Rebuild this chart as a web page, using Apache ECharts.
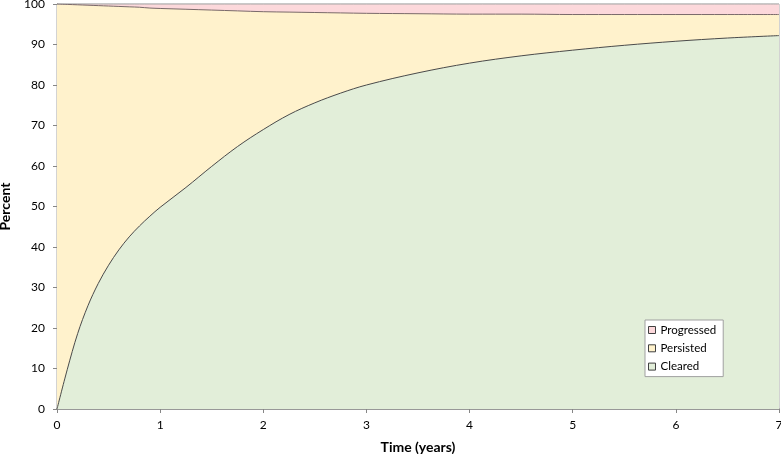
<!DOCTYPE html>
<html><head><meta charset="utf-8">
<script src="https://cdn.jsdelivr.net/npm/echarts@6/dist/echarts.min.js"></script>
<style>html,body{margin:0;padding:0;background:#fff}#c{width:781px;height:454px}</style>
</head><body><div id="c"></div>
<script>
const years      = [0,0.1,0.2,0.3,0.4,0.5,0.6,0.7,0.8,0.9,1.0,1.25,1.5,1.75,2.0,2.25,2.5,2.75,3.0,3.5,4.0,4.5,5.0,5.5,6.0,6.5,7.0];
const cleared    = [0,9.8,18.6,25.5,31.0,35.5,39.3,42.5,45.2,47.6,49.8,54.7,59.9,64.8,69.0,72.7,75.6,78.0,80.0,83.0,85.4,87.2,88.6,89.8,90.8,91.6,92.2];
const persisted  = [100,90.1,81.2,74.2,68.6,64.0,60.1,56.8,54.0,51.4,49.1,44.0,38.6,33.5,29.1,25.3,22.3,19.8,17.7,14.6,12.1,10.3,8.8,7.6,6.6,5.8,5.2];
const progressed = [0,0.1,0.2,0.3,0.4,0.5,0.6,0.7,0.8,1.0,1.1,1.3,1.5,1.7,1.9,2.0,2.1,2.2,2.3,2.4,2.5,2.5,2.6,2.6,2.6,2.6,2.6];
const xTicks = [0,1,2,3,4,5,6,7];
const yTicks = [0,10,20,30,40,50,60,70,80,90,100];

const FONT = "Lato, 'Open Sans', sans-serif";
// cumulative (stacked) tops, drawn back-to-front
const topCleared    = cleared.map(v=>v);
const topPersisted  = cleared.map((v,i)=>+(v+persisted[i]).toFixed(2));
const topProgressed = cleared.map((v,i)=>+(v+persisted[i]+progressed[i]).toFixed(2));
const pair = arr => years.map((x,i)=>[x,arr[i]]);
const chart = echarts.init(document.getElementById('c'), null, {renderer:'canvas'});
chart.setOption({
  animation:false,
  textStyle:{fontFamily:FONT},
  grid:{left:57,right:2,top:4,bottom:45,containLabel:false,outerBoundsMode:'none',
        show:true,borderColor:'#A6A6A6',borderWidth:1,backgroundColor:'transparent'},
  legend:{
    orient:'vertical', left:645, top:320, padding:[4,7,4,3], itemGap:6.3,
    backgroundColor:'#FFFFFF', borderColor:'#A0A0A0', borderWidth:1,
    icon:'rect', itemWidth:7, itemHeight:7,
    textStyle:{fontFamily:FONT,fontSize:11.5,color:'#000',lineHeight:12},
    itemStyle:{borderColor:'#404040',borderWidth:1},
    data:['Progressed','Persisted','Cleared']
  },
  xAxis:{
    type:'value', min:0, max:7, interval:1,
    name:'Time (years)', nameLocation:'middle', nameGap:31,
    nameTextStyle:{fontFamily:FONT,fontSize:14,fontWeight:'bold',color:'#000'},
    axisLine:{show:true,lineStyle:{color:'#868686',width:1.5}},
    axisTick:{show:true,length:4,lineStyle:{color:'#868686'}},
    axisLabel:{fontFamily:FONT,fontSize:12,color:'#000',margin:10,formatter:v=>xTicks.includes(v)?String(v):''},
    splitLine:{show:false}
  },
  yAxis:{
    type:'value', min:0, max:100, interval:10,
    name:'Percent', nameLocation:'middle', nameGap:45, nameRotate:90,
    nameTextStyle:{fontFamily:FONT,fontSize:14,fontWeight:'bold',color:'#000'},
    axisLine:{show:true,lineStyle:{color:'#868686',width:1}},
    axisTick:{show:true,length:4,lineStyle:{color:'#868686'}},
    axisLabel:{fontFamily:FONT,fontSize:12,color:'#000',margin:12,formatter:v=>yTicks.includes(v)?String(v):''},
    splitLine:{show:false}
  },
  series:[
    {name:'Progressed',type:'line',data:pair(topProgressed),smooth:0.35,symbol:'none',
     color:'#FCD8DB',lineStyle:{color:'#A6A6A6',width:1},areaStyle:{color:'#FCD8DB',opacity:1}},
    {name:'Persisted',type:'line',data:pair(topPersisted),smooth:0.35,symbol:'none',
     color:'#FFF2CC',lineStyle:{color:'#7A6A6A',width:1},areaStyle:{color:'#FFF2CC',opacity:1}},
    {name:'Cleared',type:'line',data:pair(topCleared),smooth:0.35,symbol:'none',
     color:'#E2EED9',lineStyle:{color:'#4A4A4A',width:1},areaStyle:{color:'#E2EED9',opacity:1}}
  ]
});
</script></body></html>
